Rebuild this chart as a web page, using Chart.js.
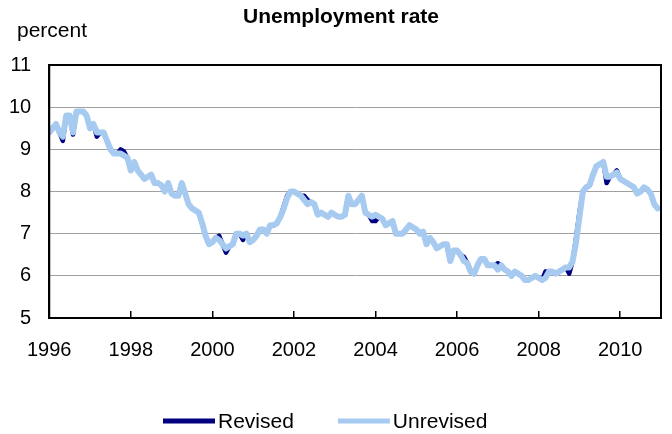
<!DOCTYPE html>
<html>
<head>
<meta charset="utf-8">
<title>Unemployment rate</title>
<script src="https://cdn.jsdelivr.net/npm/chart.js@4.4.0/dist/chart.umd.min.js"></script>
<style>
  html, body { margin: 0; padding: 0; background: #fff; }
  #wrap { width: 672px; height: 434px; }
</style>
</head>
<body>
<div id="wrap"><canvas id="chartCanvas" width="672" height="434"></canvas></div>
<script>
// Text
const chartTitle = 'Unemployment rate';
const unitLabel = 'percent';
const seriesNames = ['Revised', 'Unrevised'];

// X axis: monthly points, January 1996 to December 2010
const startYear = 1996;
const endYear = 2011;
const xTickYears = [1996, 1998, 2000, 2002, 2004, 2006, 2008, 2010];
const xTickLabels = ['1996', '1998', '2000', '2002', '2004', '2006', '2008', '2010'];
const yTicks = [5, 6, 7, 8, 9, 10, 11];

// Unemployment rate, percent (one row per year, Jan..Dec)
const unrevised = [
  9.4, 9.5, 9.6, 9.4, 9.3, 9.8, 9.8, 9.4, 9.9, 9.9, 9.9, 9.8,          // 1996
  9.5, 9.6, 9.4, 9.4, 9.4, 9.2, 9.0, 8.9, 8.9, 8.9, 8.85, 8.8,         // 1997
  8.5, 8.7, 8.5, 8.4, 8.3, 8.35, 8.4, 8.2, 8.2, 8.15, 8.0, 8.2,        // 1998
  7.95, 7.9, 7.9, 8.2, 7.95, 7.7, 7.6, 7.55, 7.5, 7.25, 6.95, 6.75,    // 1999
  6.8, 6.9, 6.85, 6.75, 6.65, 6.7, 6.75, 7.0, 7.0, 6.95, 7.0, 6.8,     // 2000
  6.85, 6.95, 7.1, 7.1, 7.0, 7.2, 7.2, 7.25, 7.4, 7.6, 7.85, 8.0,      // 2001
  8.0, 7.95, 7.9, 7.8, 7.7, 7.75, 7.7, 7.45, 7.5, 7.45, 7.4, 7.5,      // 2002
  7.45, 7.4, 7.4, 7.45, 7.9, 7.7, 7.7, 7.8, 7.9, 7.5, 7.45, 7.4,       // 2003
  7.45, 7.4, 7.35, 7.2, 7.25, 7.3, 7.0, 7.0, 7.0, 7.1, 7.2, 7.15,      // 2004
  7.1, 7.0, 7.05, 6.75, 6.9, 6.8, 6.65, 6.7, 6.75, 6.75, 6.35, 6.6,    // 2005
  6.6, 6.5, 6.35, 6.3, 6.1, 6.05, 6.25, 6.4, 6.4, 6.25, 6.25, 6.25,    // 2006
  6.15, 6.25, 6.15, 6.1, 6.0, 6.1, 6.05, 6.0, 5.9, 5.9, 5.95, 6.0,     // 2007
  5.95, 5.9, 5.95, 6.1, 6.1, 6.05, 6.1, 6.15, 6.2, 6.2, 6.35, 6.8,     // 2008
  7.4, 8.0, 8.1, 8.15, 8.4, 8.6, 8.65, 8.7, 8.35, 8.35, 8.4, 8.45,     // 2009
  8.3, 8.25, 8.2, 8.15, 8.1, 7.95, 8.0, 8.1, 8.05, 7.95, 7.7, 7.6      // 2010
];

const revised = [
  9.4, 9.5, 9.6, 9.4, 9.2, 9.8, 9.8, 9.35, 9.9, 9.9, 9.9, 9.8,         // 1996
  9.5, 9.6, 9.3, 9.4, 9.4, 9.2, 9.0, 8.9, 8.9, 9.0, 8.95, 8.8,         // 1997
  8.5, 8.7, 8.5, 8.4, 8.3, 8.35, 8.4, 8.2, 8.2, 8.15, 8.0, 8.2,        // 1998
  7.95, 7.9, 7.9, 8.2, 7.95, 7.7, 7.6, 7.55, 7.5, 7.25, 6.95, 6.75,    // 1999
  6.8, 6.9, 6.95, 6.75, 6.55, 6.7, 6.75, 7.0, 7.0, 6.85, 7.0, 6.8,     // 2000
  6.85, 6.95, 7.1, 7.1, 7.0, 7.2, 7.2, 7.25, 7.4, 7.65, 7.9, 8.0,      // 2001
  8.0, 7.95, 7.9, 7.9, 7.8, 7.75, 7.7, 7.45, 7.5, 7.45, 7.4, 7.5,      // 2002
  7.45, 7.4, 7.4, 7.45, 7.9, 7.7, 7.7, 7.8, 7.9, 7.5, 7.45, 7.3,       // 2003
  7.3, 7.4, 7.35, 7.2, 7.25, 7.3, 7.0, 7.0, 7.0, 7.1, 7.2, 7.15,       // 2004
  7.1, 7.0, 7.05, 6.75, 6.9, 6.8, 6.65, 6.7, 6.75, 6.75, 6.35, 6.6,    // 2005
  6.6, 6.5, 6.45, 6.3, 6.1, 6.05, 6.25, 6.4, 6.4, 6.25, 6.25, 6.25,    // 2006
  6.3, 6.25, 6.15, 6.1, 6.0, 6.1, 6.05, 6.0, 5.9, 5.9, 5.95, 6.0,      // 2007
  5.95, 5.9, 6.1, 6.1, 6.1, 6.05, 6.1, 6.15, 6.2, 6.05, 6.35, 6.9,     // 2008
  7.5, 8.0, 8.1, 8.15, 8.4, 8.6, 8.65, 8.7, 8.2, 8.35, 8.4, 8.5,       // 2009
  8.3, 8.25, 8.2, 8.15, 8.1, 7.95, 8.0, 8.1, 8.05, 7.95, 7.7, 7.6      // 2010
];

const fontFamily = "'Liberation Sans', Arial, sans-serif";
Chart.defaults.font.family = fontFamily;
Chart.defaults.font.size = 20;
Chart.defaults.color = '#000';

// monthly series -> {x: decimal year, y: rate}
const toPoints = values => values.map((v, i) => ({ x: startYear + i / 12, y: v }));

// black box round the plot area
const framePlugin = {
  id: 'frame',
  afterDraw(chart) {
    const { ctx, chartArea: a } = chart;
    ctx.save();
    ctx.strokeStyle = '#000';
    ctx.lineWidth = 2;
    ctx.strokeRect(a.left, a.top, a.right - a.left, a.bottom - a.top);
    ctx.restore();
  }
};

// title, unit label and legend
const textPlugin = {
  id: 'texts',
  afterDraw(chart) {
    const ctx = chart.ctx;
    ctx.save();
    ctx.fillStyle = '#000';
    ctx.textBaseline = 'middle';

    ctx.font = 'bold 21px ' + fontFamily;
    ctx.textAlign = 'center';
    ctx.fillText(chartTitle, 341, 17);

    ctx.font = '21px ' + fontFamily;
    ctx.textAlign = 'left';
    ctx.fillText(unitLabel, 17, 31);

    // legend: short line then label, in series order
    let x = 163;
    const y = 421;
    seriesNames.forEach(name => {
      const ds = chart.data.datasets.find(d => d.label === name);
      ctx.strokeStyle = ds.borderColor;
      ctx.lineWidth = 5;
      ctx.beginPath();
      ctx.moveTo(x, y);
      ctx.lineTo(x + 52, y);
      ctx.stroke();
      ctx.fillText(name, x + 55, y + 1);
      x += 55 + ctx.measureText(name).width + 44;
    });
    ctx.restore();
  }
};

document.addEventListener('DOMContentLoaded', function() {
  const ctx = document.getElementById('chartCanvas').getContext('2d');
  new Chart(ctx, {
    type: 'line',
    data: {
      datasets: [
        {
          label: seriesNames[0],
          data: toPoints(revised),
          borderColor: '#000080',
          backgroundColor: '#000080',
          borderWidth: 4.5,
          order: 2
        },
        {
          label: seriesNames[1],
          data: toPoints(unrevised),
          borderColor: '#a6caf0',
          backgroundColor: '#a6caf0',
          borderWidth: 6,
          order: 1
        }
      ]
    },
    options: {
      responsive: false,
      animation: false,
      layout: { padding: { top: 65, right: 11, bottom: 0, left: 0 } },
      elements: {
        point: { radius: 0 },
        line: { tension: 0, borderJoinStyle: 'round', borderCapStyle: 'round' }
      },
      plugins: {
        legend: { display: false },
        tooltip: { enabled: false },
        title: { display: false }
      },
      scales: {
        x: {
          type: 'linear',
          min: startYear,
          max: endYear,
          afterBuildTicks: s => { s.ticks = xTickYears.map(v => ({ value: v })); },
          afterFit: s => { s.height = 116; },
          ticks: {
            padding: 27,
            maxRotation: 0,
            autoSkip: false,
            callback: (v, i) => xTickLabels[i]
          },
          grid: { drawOnChartArea: false, drawTicks: true, tickLength: -7, color: '#000', lineWidth: 1.5 },
          border: { color: '#000', width: 2 }
        },
        y: {
          min: 5,
          max: 11,
          afterBuildTicks: s => { s.ticks = yTicks.map(v => ({ value: v })); },
          afterFit: s => { s.width = 49; },
          ticks: { padding: 18 },
          grid: { color: '#a0a0a0', lineWidth: 1, drawTicks: false },
          border: { color: '#000', width: 2 }
        }
      }
    },
    plugins: [framePlugin, textPlugin]
  });
});
</script>
</body>
</html>
